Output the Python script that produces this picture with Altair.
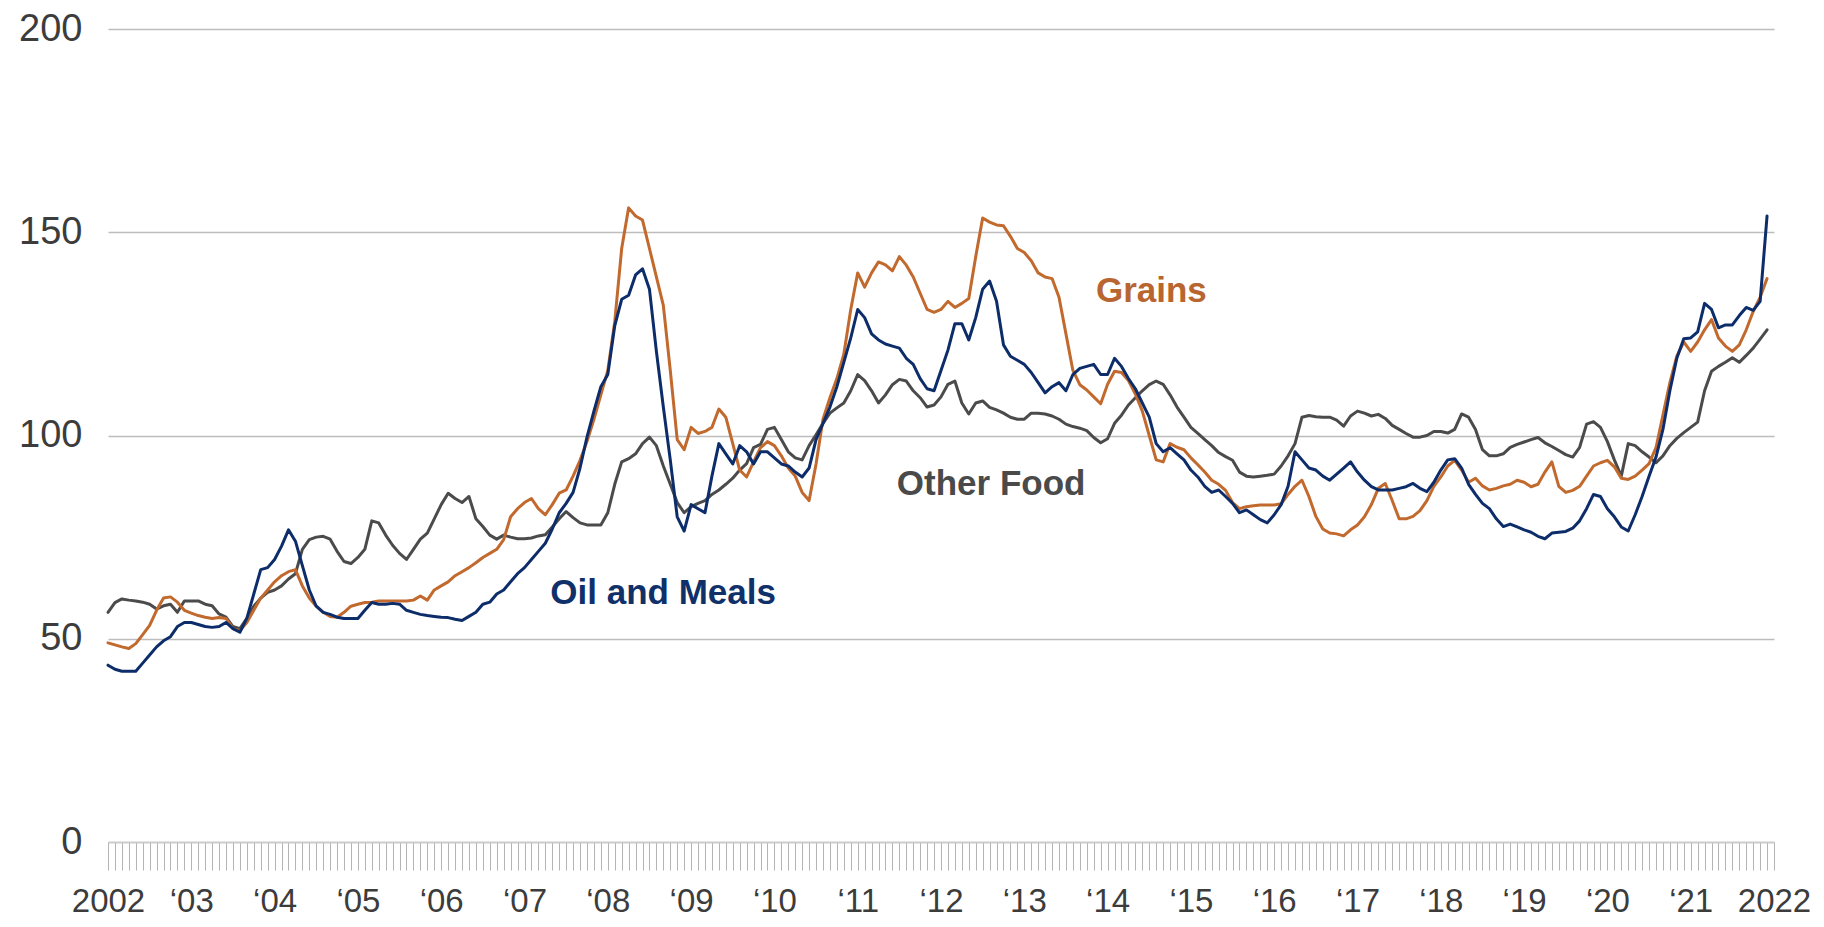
import altair as alt
import pandas as pd

START_YEAR = 2002  # monthly series, January 2002 .. December 2021

oil_and_meals = [
    43.5, 42.5, 42, 42, 42, 44, 46, 48, 49.5, 50.5, 53, 54,
    54, 53.5, 53, 52.8, 53, 54, 52.5, 51.6, 55, 61, 67, 67.5,
    69.5, 72.8, 76.8, 74, 68, 62, 58, 56.5, 56, 55.3, 55, 55,
    55, 57, 58.9, 58.5, 58.5, 58.7, 58.5, 57, 56.5, 56, 55.7, 55.5,
    55.3, 55.2, 54.8, 54.5, 55.5, 56.5, 58.5, 59, 61, 62, 64, 66,
    67.5, 69.5, 71.5, 73.5, 77, 81, 83.3, 86, 92, 99.6, 106, 112,
    115, 127, 133.5, 134.5, 139.5, 141, 136, 120.7, 107, 94, 80, 76.5,
    83, 82, 81, 90, 98, 95.5, 93, 97.5, 96, 93, 96, 96,
    94.5, 93, 92.5, 91, 89.8, 92, 99, 103, 107, 112, 118, 124,
    131, 129, 125, 123.5, 122.5, 122, 121.5, 119, 117.5, 114, 111.5, 111,
    116, 121, 127.5, 127.5, 123.5, 129, 136, 138, 133, 122.3, 119.5, 118.5,
    117.5, 115.5, 113, 110.5, 112, 113, 111, 115, 116.5, 117, 117.5, 115,
    115, 119, 117, 114, 111.5, 108, 104.5, 98, 96, 97, 95.5, 94,
    91.5, 89.8, 87.5, 86, 86.6, 85, 83.3, 81, 81.7, 80.5, 79.3, 78.5,
    80.5, 83, 87.5, 96, 94, 92, 91.5, 90, 89, 90.5, 92, 93.5,
    91, 89, 87.4, 86.6, 86.6, 86.6, 87, 87.4, 88.2, 87, 86.2, 88.5,
    91.5, 94, 94.3, 92, 88, 85.5, 83.3, 82, 79.5, 77.6, 78.2, 77.5,
    76.8, 76.2, 75.2, 74.6, 76, 76.2, 76.4, 77.2, 79, 82, 85.5, 85,
    82, 80, 77.5, 76.5, 80.5, 85, 90, 94.7, 101.5, 111, 119, 123.8,
    124, 125.5, 132.5, 131, 126.5, 127.2, 127.2, 129.5, 131.5, 130.8, 133, 154,
]

grains = [
    49, 48.5, 48, 47.6, 48.8, 51, 53.3, 57, 60, 60.3, 59, 57,
    56.3, 55.7, 55.3, 55, 55.2, 55, 52.5, 52, 54, 57, 60, 62,
    64, 65.5, 66.5, 67, 63, 60, 58, 56.5, 55.5, 55.3, 56.5, 58,
    58.5, 58.9, 59, 59.3, 59.3, 59.3, 59.3, 59.3, 59.5, 60.5, 59.5, 62,
    63, 64, 65.5, 66.5, 67.5, 68.7, 70, 71, 72, 74.4, 80, 82,
    83.5, 84.5, 82, 80.5, 83, 85.8, 86.6, 90, 93.9, 98.5, 104, 110,
    116, 128, 146, 156, 154, 153, 146, 139, 132, 116, 99, 96.5,
    102, 100.5, 101, 102, 106.5, 104.5, 98, 91.5, 89.8, 93.5, 97, 98.5,
    97.5, 95, 92, 90, 86, 84, 93, 104, 109.3, 114, 120, 131,
    140, 136.5, 140, 142.7, 142, 140.5, 144, 141.9, 139, 135, 131, 130.3,
    131, 133, 131.5, 132.5, 133.7, 144, 153.5, 152.5, 151.8, 151.6, 149, 146,
    145, 143, 140, 139, 138.6, 134, 125, 116, 112.5, 111.2, 109.5, 107.8,
    112.6, 115.8, 115.5, 113.5, 110.2, 106, 100, 94, 93.5, 98, 97.1, 96.5,
    94.5, 92.8, 91, 89, 88, 86.5, 83.5, 82, 82.5, 82.7, 82.9, 82.9,
    82.9, 83.2, 85.5, 87.5, 89, 85, 80.1, 77, 76, 75.8, 75.3, 76.8,
    78, 80, 83, 87, 88.2, 84, 79.5, 79.5, 80.1, 81.5, 84, 87.5,
    89.8, 92.5, 93.9, 91.5, 88.5, 89.5, 87.6, 86.6, 87, 87.6, 88, 89,
    88.5, 87.4, 88, 91, 93.5, 87.5, 86, 86.5, 87.5, 90, 92.5, 93.3,
    93.9, 92.3, 89.5, 89.2, 90, 91.5, 93.1, 97, 105, 113, 119.5, 123,
    120.7, 123, 126, 128.5, 124, 122, 120.7, 122.3, 126, 130.5, 134, 138.6,
]

other_food = [
    56.5, 58.9, 59.8, 59.5, 59.3, 59, 58.5, 57.3, 58.1, 58.5, 56.5, 59.3,
    59.3, 59.3, 58.5, 58.1, 56.1, 55.3, 53, 52.5, 55, 58, 60, 61.4,
    62, 63, 64.7, 66, 72, 74.4, 75, 75.2, 74.5, 71.5, 69, 68.5,
    70, 72, 79, 78.5, 75.5, 73, 71, 69.5, 72, 74.5, 76, 79.5,
    83, 85.8, 84.5, 83.5, 85, 79.5, 77.6, 75.5, 74.5, 75.5, 75, 74.6,
    74.6, 74.8, 75.3, 75.6, 77.5, 79.5, 81.3, 79.8, 78.5, 78, 78, 78,
    81, 88, 93.5, 94.3, 95.5, 98, 99.6, 97.5, 92.5, 88, 83.5, 81,
    82.5, 83.3, 84, 85.5, 86.6, 88, 89.5, 91.5, 93.1, 97, 97.8, 101.5,
    102, 99, 96, 94.5, 94, 97.5, 100.2, 103, 105.5, 106.8, 108, 111,
    115, 113.5, 111, 108, 110, 112.5, 113.8, 113.4, 111, 109.3, 107, 107.5,
    109.5, 112.6, 113.4, 108, 105.3, 108, 108.5, 106.9, 106.3, 105.5, 104.5, 104,
    104, 105.5, 105.5, 105.3, 104.8, 104, 102.8, 102.2, 101.8, 101.2, 99.5, 98.2,
    99.2, 103, 105, 107.5, 109.3, 111, 112.5, 113.4, 112.6, 110, 107, 104.5,
    102, 100.5, 99, 97.5, 95.8, 94.8, 93.9, 91, 90, 89.8, 90, 90.2,
    90.5, 92.5, 95, 98, 104.5, 104.9, 104.6, 104.5, 104.5, 103.8, 102.3, 104.8,
    106, 105.5, 104.8, 105.2, 104.2, 102.5, 101.5, 100.5, 99.6, 99.6, 100, 101,
    101, 100.6, 101.5, 105.3, 104.5, 101.5, 96.5, 95, 95, 95.5, 97.1, 97.8,
    98.4, 99, 99.5, 98.2, 97.3, 96.3, 95.3, 94.7, 97.1, 102.8, 103.4, 102,
    98.5, 94, 90, 98, 97.5, 96, 94.7, 93.3, 95, 97.5, 99.3, 100.7,
    102, 103.3, 111, 115.8, 117, 118, 119.1, 118, 119.7, 121.5, 123.7, 126,
]

series_names = ["Other Food", "Grains", "Oil and Meals"]
series_colors = ["#4b4b4b", "#c2692e", "#0d2d6a"]
series_widths = [3.0, 3.0, 3.6]

year_labels = ["2002", "\u201803", "\u201804", "\u201805", "\u201806", "\u201807",
               "\u201808", "\u201809", "\u201810", "\u201811", "\u201812", "\u201813",
               "\u201814", "\u201815", "\u201816", "\u201817", "\u201818", "\u201819",
               "\u201820", "\u201821", "2022"]
y_ticks = [0, 50, 100, 150, 200]

label_texts = ["Other Food", "Grains", "Oil and Meals"]
label_x = [2011.47, 2013.86, 2007.31]
label_y = [88.0, 135.6, 61.3]
label_colors = ["#4a4a4a", "#b9652f", "#10306a"]

rows = []
for name, vals in zip(series_names, [other_food, grains, oil_and_meals]):
    for i, v in enumerate(vals):
        rows.append({"series": name, "t": START_YEAR + i / 12, "value": v, "idx": i})
df = pd.DataFrame(rows)

labels_df = pd.DataFrame({"text": label_texts, "t": label_x, "value": label_y,
                          "series": label_texts})

month_ticks = [START_YEAR + k / 12 for k in range(241)]
label_expr = ("abs(datum.value - round(datum.value)) < 0.01 ? ["
              + ",".join("'" + s + "'" for s in year_labels)
              + "][round(datum.value) - 2002] : ''")

FONT = "Liberation Sans"

x_scale = alt.Scale(domain=[2002, 2022], nice=False, zero=False)
y_scale = alt.Scale(domain=[0, 200], nice=False)
color_scale = alt.Scale(domain=series_names, range=series_colors)

x_axis = alt.Axis(values=month_ticks, labelExpr=label_expr, grid=False,
                  domain=True, domainColor="#cccccc", domainWidth=1.5,
                  ticks=True, tickSize=28, tickColor="#b4b4b4", tickWidth=1,
                  labelPadding=15, labelFontSize=33, labelColor="#3c3c3c",
                  labelFont=FONT, labelOverlap=False, labelFlush=False,
                  labelBound=False, title=None)
y_axis = alt.Axis(values=y_ticks, grid=True, gridColor="#bdbdbd", gridWidth=1.5,
                  domain=False, ticks=False, tickSize=0, labelPadding=26,
                  labelFontSize=38, labelColor="#3c3c3c", labelFont=FONT, title=None)

lines = alt.Chart(df).mark_line(strokeJoin="round", strokeCap="round").encode(
    x=alt.X("t:Q", scale=x_scale, title=None, axis=x_axis),
    y=alt.Y("value:Q", scale=y_scale, title=None, axis=y_axis),
    color=alt.Color("series:N", scale=color_scale, legend=None),
    strokeWidth=alt.StrokeWidth("series:N",
                                scale=alt.Scale(domain=series_names, range=series_widths),
                                legend=None),
    order=alt.Order("idx:Q"),
    detail="series:N",
)

texts = alt.Chart(labels_df).mark_text(align="left", baseline="middle", fontSize=35,
                                       fontWeight="bold", font=FONT).encode(
    x=alt.X("t:Q", scale=x_scale, title=None, axis=x_axis),
    y=alt.Y("value:Q", scale=y_scale, title=None, axis=y_axis),
    text="text:N",
    color=alt.Color("series:N", scale=alt.Scale(domain=label_texts, range=label_colors),
                    legend=None),
)

chart = alt.layer(lines, texts).resolve_scale(color="independent").properties(
    width=1666, height=813, autosize="none",
    padding={"left": 100, "top": 21, "right": 40, "bottom": 77},
).configure(font=FONT, background="white").configure_view(stroke=None)

chart.save("out.html", embed_options={"renderer": "svg", "actions": False})
